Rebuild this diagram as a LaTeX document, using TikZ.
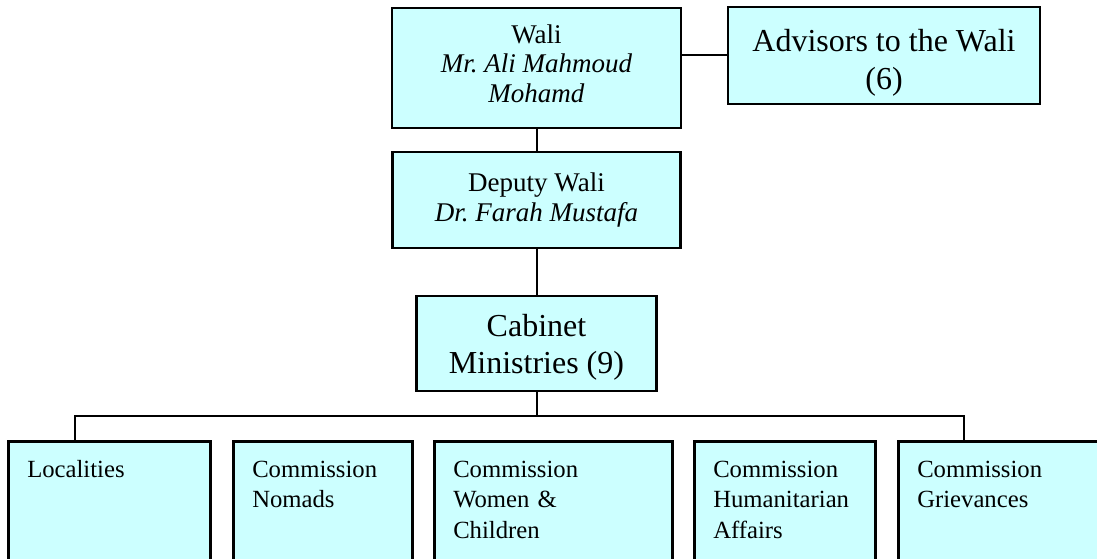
\documentclass[tikz,border=0pt]{standalone}
\usepackage{fontspec}
\setmainfont{Liberation Serif}
\definecolor{boxcyan}{RGB}{204,255,255}

\begin{document}
\begin{tikzpicture}[x=1pt,y=-1pt,
  office/.style={draw=black, line width=2.5pt, fill=boxcyan, align=center, inner sep=0pt},
  small/.style={font=\fontsize{27}{29.5}\selectfont},
  large/.style={font=\fontsize{32}{37.5}\selectfont},
  unit/.style={draw=black, line width=2.5pt, fill=boxcyan, anchor=north west, align=left,
    inner xsep=19pt, inner ysep=0pt, text height=36pt, text depth=110pt,
    font=\fontsize{24.7}{30.5}\selectfont},
  link/.style={line width=2pt}]
\useasboundingbox (0,0) rectangle (1097,559);
\clip (0,0) rectangle (1097,559);

% top of the chart
\node[office, small, minimum width=289pt, minimum height=120pt] (wali) at (536.5,68)
  {Wali\\ \textit{Mr.\ Ali Mahmoud}\\ \textit{Mohamd}\rule[-9pt]{0pt}{9pt}};
\node[office, large, minimum width=312pt, minimum height=97pt] (advisors) at (884,55.5)
  {\rule{0pt}{37pt}Advisors to the Wali\\ (6)};
\node[office, small, minimum width=288pt, minimum height=96pt] (deputy) at (536.5,200)
  {Deputy Wali\\ \textit{Dr.\ Farah Mustafa}};
\node[office, large, minimum width=240pt, minimum height=95pt] (cabinet) at (536.5,343.5)
  {\rule{0pt}{30pt}Cabinet\\ Ministries (9)};

% bottom row
\node[unit, text width=164pt] (localities) at (7,440) {Localities};
\node[unit, text width=141pt] (nomads) at (232,440) {Commission\\ Nomads};
\node[unit, text width=200pt] (women) at (433,440) {Commission\\ Women \&\\ Children};
\node[unit, text width=143pt] (humanitarian) at (693,440) {Commission\\ Humanitarian\\ Affairs};
\node[unit, text width=182pt] (grievances) at (897,440) {Commission\\ Grievances};

\coordinate (busL) at (75,416);
\coordinate (busR) at (964,416);

\draw[link] (wali.south) -- (deputy.north);
\draw[link] (advisors.west) -- (advisors.west -| wali.east);
\draw[link] (deputy.south) -- (cabinet.north);
\draw[link] (cabinet.south) -- (cabinet.south |- busL);
\draw[link] (busL |- localities.north) -- (busL) -- (busR) -- (busR |- grievances.north);
\end{tikzpicture}
\end{document}
